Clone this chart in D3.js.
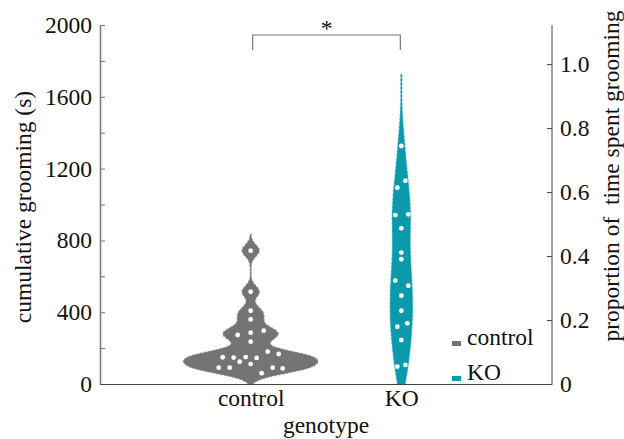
<!DOCTYPE html>
<html>
<head>
<meta charset="utf-8">
<script src="https://cdn.jsdelivr.net/npm/d3@7"></script>
<style>
  body { margin: 0; background: #fff; }
</style>
</head>
<body>
<svg id="chart" width="624" height="439" font-family="Liberation Serif"></svg>
<script>
// --- data ---
var groups = ["control", "KO"];
var colours = ["#747474", "#0a9aab"];

// cumulative grooming (s), one value per animal
var controlValues = [743, 514, 408, 360, 273, 286, 297, 236, 180, 167, 149, 147, 150, 145, 124, 111, 91, 91, 91, 87, 60];
var koValues = [1326, 1133, 1094, 941, 945, 867, 732, 695, 576, 548, 492, 408, 319, 338, 245, 97, 106];

// horizontal jitter of the dots inside each violin (px)
var controlJitter = [0, 0, 0, 0, -13, 0, 13, 0, 17, 28, -28, -17, -5, 6, -11, 0, -32, -21, 22, 32, 11];
var koJitter = [0, 4, -4, -6, 7, 0, 0, 0, -6, 7, 0, 0, -4, 6, 0, -4, 4];

var leftTicks = [0, 200, 400, 600, 800, 1000, 1200, 1400, 1600, 1800, 2000];
var rightTicks = [0, 0.2, 0.4, 0.6, 0.8, 1.0];

(function () {
  "use strict";

  var svg = d3.select("#chart");
  var margin = { left: 100, right: 552, top: 25, bottom: 384 };
  var fontSize = 23.5;

  var y = d3.scaleLinear().domain([0, 2000]).range([margin.bottom, margin.top]);
  // proportion axis: 1.0 sits at 1782 s (proportion of the session)
  var yProp = d3.scaleLinear().domain([0, 1]).range([margin.bottom, y(1782)]);
  var x = d3.scalePoint().domain(groups).range([margin.left, margin.right]).padding(1);

  function styleText(sel) {
    return sel.attr("font-family", "Liberation Serif").attr("font-size", fontSize).attr("fill", "#111");
  }

  /**
   * Gaussian kernel density evaluated on a grid of values.
   */
  function kde(values, bw, lo, hi, step) {
    var out = [];
    for (var v = lo; v <= hi; v += step) {
      var s = 0;
      for (var i = 0; i < values.length; i++) {
        var z = (v - values[i]) / bw;
        s += Math.exp(-0.5 * z * z);
      }
      out.push([v, s / (values.length * bw * Math.sqrt(2 * Math.PI))]);
    }
    return out;
  }

  function drawViolin(name, values, jitter, colour, bw, top, halfWidth) {
    var dens = kde(values, bw, 0, top, 4);
    var maxD = d3.max(dens, function (d) { return d[1]; });
    var w = d3.scaleLinear().domain([0, maxD]).range([0, halfWidth]);
    var cx = x(name);

    var area = d3.area()
      .curve(d3.curveLinear)
      .y(function (d) { return y(d[0]); })
      .x0(function (d) { return cx - w(d[1]); })
      .x1(function (d) { return cx + w(d[1]); });

    var g = svg.append("g").attr("class", "violin " + name);
    g.append("path")
      .datum(dens)
      .attr("d", area)
      .attr("fill", colour)
      .attr("stroke", colour)
      .attr("stroke-width", 0.8);
    // the frayed look of the original outline
    g.append("path")
      .datum(dens)
      .attr("d", area)
      .attr("fill", "none")
      .attr("stroke", colour)
      .attr("stroke-opacity", 0.55)
      .attr("stroke-width", 2.5)
      .attr("stroke-dasharray", "1 3");

    g.selectAll("circle").data(values).enter()
      .append("circle")
      .attr("cx", function (d, i) { return cx + jitter[i]; })
      .attr("cy", function (d) { return y(d); })
      .attr("r", 2.4)
      .attr("fill", "#fff");
  }

  drawViolin("control", controlValues, controlJitter, colours[0], 32, 832, 67);
  drawViolin("KO", koValues, koJitter, colours[1], 125, 1730, 11);

  // left axis: minor ticks every 200, labels every 400, ticks pointing inward
  var leftAxis = d3.axisLeft(y)
    .tickValues(leftTicks)
    .tickSizeInner(-5)
    .tickSizeOuter(0)
    .tickPadding(8)
    .tickFormat(function (d) { return d % 400 === 0 ? d : ""; });
  var gl = svg.append("g").attr("transform", "translate(" + margin.left + ",0)").call(leftAxis);
  styleText(gl);
  gl.select(".domain").attr("stroke", "#777").attr("stroke-width", 1.5);
  gl.selectAll(".tick line").attr("stroke", "#777");
  styleText(gl.selectAll("text"));

  // right axis
  var rightAxis = d3.axisRight(yProp)
    .tickValues(rightTicks)
    .tickSizeInner(-5)
    .tickSizeOuter(0)
    .tickPadding(8)
    .tickFormat(function (d) { return d === 0 ? "0" : d.toFixed(1); });
  var gr = svg.append("g").attr("transform", "translate(" + margin.right + ",0)").call(rightAxis);
  styleText(gr);
  gr.select(".domain").attr("d", "M0," + margin.top + "V" + margin.bottom).attr("stroke", "#444");
  gr.selectAll(".tick line").attr("stroke", "#444");
  styleText(gr.selectAll("text"));

  // bottom axis
  var bottomAxis = d3.axisBottom(x).tickSize(0).tickPadding(5).tickSizeOuter(0);
  var gb = svg.append("g").attr("transform", "translate(0," + margin.bottom + ")").call(bottomAxis);
  styleText(gb);
  gb.select(".domain").attr("stroke", "#444").attr("stroke-width", 1.2);
  styleText(gb.selectAll("text"));

  // axis titles
  styleText(svg.append("text")
    .attr("transform", "translate(31,207) rotate(-90)")
    .attr("text-anchor", "middle")
    .text("cumulative grooming (s)"));
  styleText(svg.append("text")
    .attr("transform", "translate(619,176) rotate(-90)")
    .attr("text-anchor", "middle")
    .attr("xml:space", "preserve")
    .text("proportion of  time spent grooming"));
  styleText(svg.append("text")
    .attr("x", (margin.left + margin.right) / 2)
    .attr("y", 433)
    .attr("text-anchor", "middle")
    .text("genotype"));

  // significance bracket
  var x0 = x("control") + 2, x1 = x("KO") - 1;
  svg.append("path")
    .attr("d", "M" + x0 + ",50V35H" + x1 + "V50")
    .attr("fill", "none")
    .attr("stroke", "#777")
    .attr("stroke-width", 1.2);
  styleText(svg.append("text")
    .attr("x", (x0 + x1) / 2)
    .attr("y", 36)
    .attr("text-anchor", "middle")
    .text("*"));

  // legend
  var legend = svg.append("g").attr("transform", "translate(452,341)");
  legend.selectAll("rect").data(groups).enter()
    .append("rect")
    .attr("x", 0)
    .attr("y", function (d, i) { return i * 35; })
    .attr("width", 9)
    .attr("height", 5)
    .attr("fill", function (d, i) { return colours[i]; });
  styleText(legend.selectAll("text").data(groups).enter()
    .append("text")
    .attr("x", 15)
    .attr("y", function (d, i) { return i * 35 + 4; })
    .text(function (d) { return d; }));
})();
</script>
</body>
</html>
